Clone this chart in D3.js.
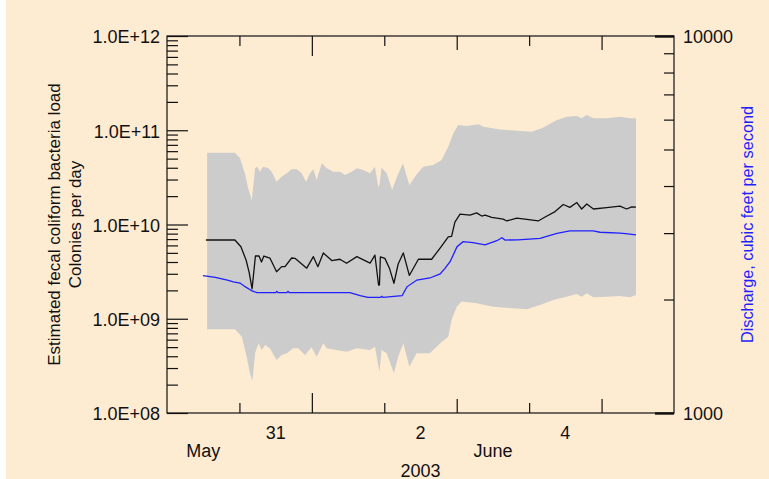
<!DOCTYPE html>
<html>
<head>
<meta charset="utf-8">
<script src="https://cdn.jsdelivr.net/npm/d3@7"></script>
<style>
  html, body { margin: 0; padding: 0; background: #ffffff; }
  svg { display: block; }
  text { font-family: "Liberation Sans", Arial, Helvetica, sans-serif; }
</style>
</head>
<body>
<svg id="chart" width="769" height="479"></svg>
<script>
// Time axis: hours counted from 30 May 2003, 00:00
const startDate = new Date(2003, 4, 30);
const endDate = new Date(2003, 5, 6);

// Estimated fecal coliform load, colonies per day
const loadHours = [12.9, 22.5, 24.5, 26.2, 27.2, 28.2, 29.3, 30.5, 31.3, 32.1,
  34.1, 36.3, 38.0, 39.1, 41.3, 42.4, 46.3, 48.5, 50.0, 51.8,
  54.6, 57.3, 59.5, 62.9, 67.3, 68.9, 70.1, 70.4, 70.7, 72.2,
  73.7, 75.2, 76.6, 78.3, 80.3, 83.3, 87.7, 90.8, 93.2, 94.3,
  95.4, 97.1, 100.4, 102.6, 104.3, 105.4, 107.6, 111.4, 112.6, 115.9,
  118.6, 123.0, 125.3, 128.6, 131.3, 133.5, 135.8, 137.4, 139.1, 141.3,
  145.7, 150.1, 152.3, 154.0, 155.4];
const loadValues = [6.85e9, 6.85e9, 5.8e9, 4.2e9, 3.13e9, 2.08e9, 4.63e9, 4.63e9, 4.0e9, 4.63e9,
  4.41e9, 3.15e9, 3.57e9, 3.58e9, 4.41e9, 4.38e9, 3.44e9, 4.56e9, 3.57e9, 4.99e9,
  4.14e9, 4.28e9, 3.88e9, 4.56e9, 3.89e9, 4.73e9, 2.28e9, 2.28e9, 4.53e9, 4.37e9,
  3.44e9, 2.38e9, 3.81e9, 4.99e9, 2.88e9, 4.28e9, 4.28e9, 5.8e9, 7.4e9, 7.5e9,
  1.06e10, 1.29e10, 1.26e10, 1.33e10, 1.23e10, 1.26e10, 1.19e10, 1.14e10, 1.09e10, 1.17e10,
  1.14e10, 1.09e10, 1.20e10, 1.37e10, 1.63e10, 1.52e10, 1.71e10, 1.46e10, 1.65e10, 1.46e10,
  1.51e10, 1.57e10, 1.46e10, 1.54e10, 1.53e10];

// Upper and lower bounds of the load estimate
const upperHours = [13.3, 22.5, 24.2, 25.8, 26.9, 28.1, 29.2, 29.9, 30.8, 31.9,
  33.6, 34.7, 36.3, 38.0, 39.7, 41.3, 43.0, 44.6, 46.1, 47.4,
  48.5, 49.6, 51.3, 52.9, 55.1, 57.3, 59.0, 61.2, 62.9, 65.0,
  67.3, 68.9, 70.0, 70.4, 71.1, 72.8, 74.6, 76.2, 78.2, 80.3,
  82.7, 84.9, 88.2, 91.0, 93.2, 94.9, 96.5, 99.3, 103.2, 104.8,
  110.3, 115.9, 120.8, 124.2, 129.1, 132.4, 135.8, 137.4, 139.1, 141.3,
  145.7, 150.1, 153.4, 155.4];
const upperValues = [5.78e10, 5.78e10, 5.04e10, 3.49e10, 2.42e10, 1.82e10, 3.95e10, 4.10e10, 3.63e10, 4.10e10,
  3.95e10, 3.63e10, 2.84e10, 3.21e10, 3.49e10, 3.85e10, 3.85e10, 3.49e10, 2.84e10, 3.49e10,
  3.85e10, 2.97e10, 4.46e10, 3.95e10, 3.63e10, 3.63e10, 3.35e10, 3.63e10, 3.95e10, 3.79e10,
  3.49e10, 4.10e10, 2.52e10, 2.62e10, 4.0e10, 3.49e10, 2.32e10, 3.21e10, 4.46e10, 2.62e10,
  3.40e10, 4.10e10, 4.28e10, 4.83e10, 6.69e10, 9.29e10, 1.14e11, 1.11e11, 1.16e11, 1.09e11,
  1.02e11, 9.89e10, 9.66e10, 1.05e11, 1.28e11, 1.39e11, 1.42e11, 1.34e11, 1.45e11, 1.34e11,
  1.34e11, 1.39e11, 1.34e11, 1.34e11];
const lowerHours = [13.3, 22.5, 24.8, 26.4, 27.5, 28.3, 29.2, 30.3, 31.4, 32.5,
  34.1, 36.3, 38.0, 39.7, 41.8, 43.5, 45.7, 47.9, 49.6, 51.8,
  52.9, 56.2, 59.5, 62.9, 67.3, 68.9, 70.4, 71.1, 72.8, 75.2,
  76.6, 78.3, 80.3, 82.7, 87.1, 90.5, 93.2, 94.3, 96.0, 97.6,
  102.6, 108.1, 114.7, 119.2, 123.6, 128.0, 132.4, 135.8, 137.4, 139.1,
  141.3, 145.7, 150.1, 153.4, 155.4];
const lowerValues = [7.73e8, 7.73e8, 6.45e8, 3.96e8, 2.64e8, 2.20e8, 4.30e8, 5.49e8, 4.66e8, 5.26e8,
  4.86e8, 3.65e8, 4.12e8, 4.30e8, 4.86e8, 4.86e8, 4.12e8, 4.98e8, 3.96e8, 5.49e8,
  4.86e8, 4.66e8, 4.47e8, 4.86e8, 4.66e8, 5.05e8, 2.74e8, 4.66e8, 4.30e8, 2.64e8,
  3.96e8, 5.49e8, 3.10e8, 4.30e8, 4.30e8, 5.49e8, 6.45e8, 9.70e8, 1.34e9, 1.52e9,
  1.46e9, 1.34e9, 1.29e9, 1.26e9, 1.40e9, 1.58e9, 1.71e9, 1.83e9, 1.71e9, 1.86e9,
  1.69e9, 1.71e9, 1.74e9, 1.69e9, 1.79e9];

// Discharge, cubic feet per second
const flowHours = [11.9, 16, 20, 22, 24.2, 26, 28.2, 29.8, 36, 36.4,
  36.8, 39.7, 40.1, 40.5, 60.6, 64, 66.6, 70.8, 71.2, 71.6,
  77.9, 79.5, 82.8, 87.1, 90.5, 92.1, 93.8, 96.1, 98.1, 101.4,
  105.4, 109.3, 111, 112, 116.3, 123.6, 129.2, 133.5, 141.2, 143.5,
  150.1, 152, 155.4];
const flowValues = [2313, 2290, 2250, 2228, 2212, 2160, 2107, 2085, 2085, 2100,
  2085, 2085, 2100, 2085, 2085, 2047, 2027, 2027, 2040, 2027,
  2047, 2161, 2253, 2281, 2338, 2420, 2519, 2760, 2847, 2830,
  2791, 2864, 2917, 2876, 2880, 2906, 2997, 3040, 3040, 3016,
  3000, 2990, 2967];

// Axis labels
const loadDecades = [1e8, 1e9, 1e10, 1e11, 1e12];
const flowMajor = [1000, 10000];
const flowMinor = [2000, 3000, 4000, 5000, 6000, 7000, 8000, 9000];
const dayLabels = [{ day: new Date(2003, 4, 31), text: "31" },
                   { day: new Date(2003, 5, 2), text: "2" },
                   { day: new Date(2003, 5, 4), text: "4" }];
const monthLabels = [{ from: startDate, to: new Date(2003, 4, 31), text: "May" },
                     { from: new Date(2003, 5, 1), to: endDate, text: "June" }];
const yearLabel = "2003";
const leftTitle = ["Estimated fecal coliform bacteria load", "Colonies per day"];
const rightTitle = "Discharge, cubic feet per second";

const W = 769, H = 479;
const plot = { left: 167, right: 674, top: 36, bottom: 413 };
const peach = "#fdebd2";

const svg = d3.select("#chart");
svg.append("rect").attr("x", 6).attr("y", 0).attr("width", W - 6).attr("height", H).attr("fill", peach);

const toDate = h => new Date(startDate.getTime() + h * 3600e3);
const x = d3.scaleTime().domain([startDate, endDate]).range([plot.left, plot.right]);
const yLoad = d3.scaleLog().domain([1e8, 1e12]).range([plot.bottom, plot.top]);
const yFlow = d3.scaleLog().domain([1000, 10000]).range([plot.bottom, plot.top]);

// Band between the bounds
const upperPts = upperHours.map((h, i) => [x(toDate(h)), yLoad(upperValues[i])]);
const lowerPts = lowerHours.map((h, i) => [x(toDate(h)), yLoad(lowerValues[i])]);
const bandLine = d3.line();
svg.append("path")
  .attr("d", bandLine(upperPts.concat(lowerPts.slice().reverse())) + "Z")
  .attr("fill", "#cccccc")
  .attr("stroke", "none");

// Load estimate
svg.append("path")
  .datum(loadHours.map((h, i) => ({ t: toDate(h), v: loadValues[i] })))
  .attr("d", d3.line().x(d => x(d.t)).y(d => yLoad(d.v)))
  .attr("fill", "none")
  .attr("stroke", "#111111")
  .attr("stroke-width", 1.3)
  .attr("stroke-linejoin", "round");

// Discharge
svg.append("path")
  .datum(flowHours.map((h, i) => ({ t: toDate(h), v: flowValues[i] })))
  .attr("d", d3.line().x(d => x(d.t)).y(d => yFlow(d.v)))
  .attr("fill", "none")
  .attr("stroke", "#1f1fff")
  .attr("stroke-width", 1.3);

// Frame
svg.append("rect")
  .attr("x", plot.left).attr("y", plot.top)
  .attr("width", plot.right - plot.left).attr("height", plot.bottom - plot.top)
  .attr("fill", "none").attr("stroke", "#111").attr("stroke-width", 1.2);

function styleAxis(g, width) {
  g.select(".domain").remove();
  g.selectAll(".tick line").attr("stroke", "#111").attr("stroke-width", width || 1.2);
  g.selectAll(".tick text")
    .attr("fill", "#111")
    .style("font-family", '"Liberation Sans", Arial, sans-serif')
    .style("font-size", "18px");
}

// Left axis: load (log)
const loadMinor = [];
for (let k = 8; k < 12; k++) for (let m = 2; m <= 9; m++) loadMinor.push(m * Math.pow(10, k));
svg.append("g").attr("transform", `translate(${plot.left},0)`)
  .call(d3.axisLeft(yLoad).tickValues(loadMinor).tickSize(-11).tickFormat(""))
  .call(g => styleAxis(g));
svg.append("g").attr("transform", `translate(${plot.left},0)`)
  .call(d3.axisLeft(yLoad).tickValues(loadDecades).tickSize(-21).tickPadding(7)
    .tickFormat(d => "1.0E+" + String(Math.round(Math.log10(d))).padStart(2, "0")))
  .call(g => styleAxis(g))
  .call(g => g.selectAll(".tick text").attr("dy", "0.38em"));

// Right axis: discharge (log)
svg.append("g").attr("transform", `translate(${plot.right},0)`)
  .call(d3.axisRight(yFlow).tickValues(flowMinor).tickSize(-10).tickFormat(""))
  .call(g => styleAxis(g));
svg.append("g").attr("transform", `translate(${plot.right},0)`)
  .call(d3.axisRight(yFlow).tickValues(flowMajor).tickSize(-19).tickPadding(9).tickFormat(d3.format("d")))
  .call(g => styleAxis(g, 2.4))
  .call(g => g.selectAll(".tick text").attr("dy", "0.38em"));

// Time axes, bottom and top: a tick every day; short ticks on alternate days,
// a longer one where June begins
const days = d3.timeDay.range(d3.timeDay.offset(startDate, 1), endDate);
const monthStart = days.filter(d => d.getDate() === 1);
const minorDays = days.filter((d, i) => i % 2 === 0);
const majorDays = days.filter((d, i) => i % 2 === 1 && d.getDate() !== 1);
[[plot.bottom, d3.axisBottom], [plot.top, d3.axisTop]].forEach(([yPos, axisFn]) => {
  svg.append("g").attr("transform", `translate(0,${yPos})`)
    .call(axisFn(x).tickValues(minorDays).tickSize(-10).tickFormat(""))
    .call(g => styleAxis(g));
  svg.append("g").attr("transform", `translate(0,${yPos})`)
    .call(axisFn(x).tickValues(majorDays).tickSize(-14).tickFormat(""))
    .call(g => styleAxis(g));
  svg.append("g").attr("transform", `translate(0,${yPos})`)
    .call(axisFn(x).tickValues(monthStart).tickSize(-20).tickFormat(""))
    .call(g => styleAxis(g));
});

const labelFont = '"Liberation Sans", Arial, sans-serif';
svg.selectAll(".day-label").data(dayLabels).enter().append("text")
  .attr("class", "day-label")
  .attr("x", d => x(d3.timeHour.offset(d.day, 12)))
  .attr("y", 439)
  .attr("text-anchor", "middle")
  .style("font-family", labelFont).style("font-size", "18px").attr("fill", "#111")
  .text(d => d.text);
svg.selectAll(".month-label").data(monthLabels).enter().append("text")
  .attr("class", "month-label")
  .attr("x", d => (x(d.from) + x(d.to)) / 2)
  .attr("y", 457)
  .attr("text-anchor", "middle")
  .style("font-family", labelFont).style("font-size", "18px").attr("fill", "#111")
  .text(d => d.text);
svg.append("text")
  .attr("x", (x(startDate) + x(endDate)) / 2)
  .attr("y", 476.5)
  .attr("text-anchor", "middle")
  .style("font-family", labelFont).style("font-size", "18px").attr("fill", "#111")
  .text(yearLabel);

// Axis titles
const midY = (plot.top + plot.bottom) / 2;
[[60, leftTitle[0]], [81, leftTitle[1]]].forEach(([bx, t]) => {
  svg.append("text")
    .attr("transform", `translate(${bx},${midY}) rotate(-90)`)
    .attr("text-anchor", "middle")
    .style("font-family", labelFont).style("font-size", "17px").attr("fill", "#111")
    .text(t);
});
svg.append("text")
  .attr("transform", `translate(753,${midY}) rotate(-90)`)
  .attr("text-anchor", "middle")
  .style("font-family", labelFont).style("font-size", "16.3px").attr("fill", "#1f1fff")
  .text(rightTitle);
</script>
</body>
</html>
